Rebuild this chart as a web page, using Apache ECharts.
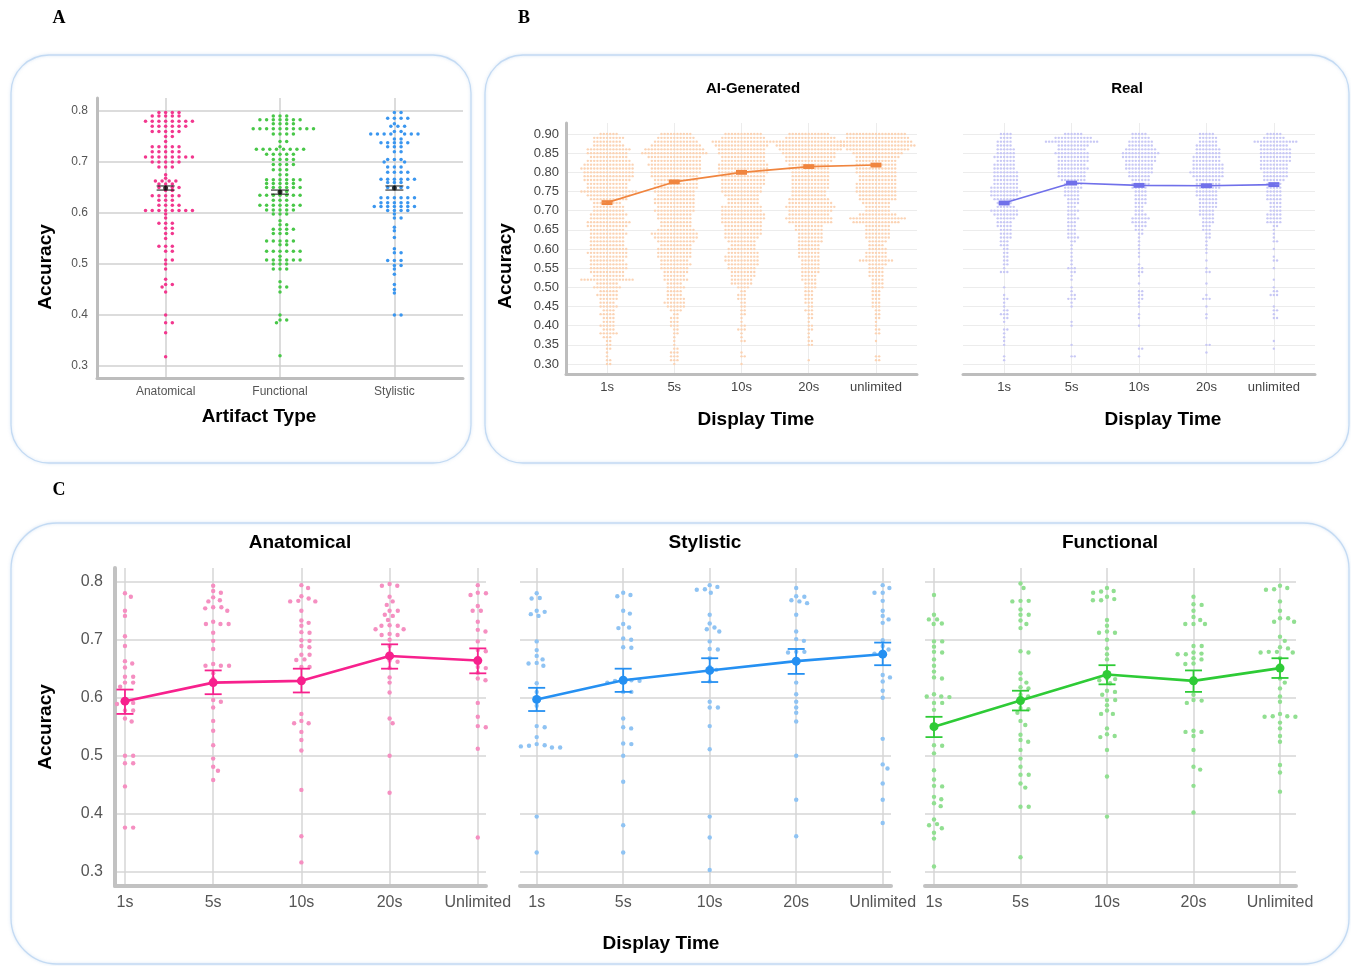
<!DOCTYPE html>
<html><head><meta charset="utf-8">
<script src="https://cdn.jsdelivr.net/npm/echarts@6/dist/echarts.min.js"></script>
<style>html,body{margin:0;padding:0;background:#fff}#c{width:1351px;height:966px}</style>
</head><body><div id="c"></div>
<script>
// ---------------- DATA ----------------
const catsA = ['Anatomical', 'Functional', 'Stylistic'];
const timesB = ['1s', '5s', '10s', '20s', 'unlimited'];
const timesC = ['1s', '5s', '10s', '20s', 'Unlimited'];
const ticksA = [0.3, 0.4, 0.5, 0.6, 0.7, 0.8];
const ticksB = [0.30, 0.35, 0.40, 0.45, 0.50, 0.55, 0.60, 0.65, 0.70, 0.75, 0.80, 0.85, 0.90];
const ticksC = [0.3, 0.4, 0.5, 0.6, 0.7, 0.8];

// Panel A : accuracy levels and number of participants at each level
const anatA_levels = [0.797,0.79,0.78,0.77,0.76,0.75,0.74,0.73,0.72,0.71,0.70,0.69,0.675,0.668,0.663,0.657,0.65,0.644,0.634,0.625,0.615,0.605,0.598,0.59,0.58,0.57,0.56,0.55,0.535,0.525,0.508,0.50,0.49,0.47,0.46,0.455,0.445,0.40,0.385,0.365,0.318];
const anatA_counts = [4,5,8,6,5,2,1,5,5,8,5,3,1,1,4,3,4,2,5,3,4,8,1,1,3,2,2,1,3,2,2,1,1,1,2,1,1,1,2,1,1];
const funcA_levels = [0.79,0.783,0.775,0.765,0.755,0.74,0.73,0.725,0.715,0.705,0.695,0.685,0.675,0.665,0.658,0.65,0.642,0.635,0.625,0.615,0.606,0.598,0.585,0.577,0.568,0.56,0.545,0.538,0.525,0.515,0.508,0.50,0.49,0.465,0.455,0.445,0.40,0.39,0.385,0.32];
const funcA_counts = [3,7,4,10,4,2,1,8,5,4,4,3,2,6,5,6,2,7,3,7,5,3,1,2,4,3,5,2,6,1,6,3,3,1,2,1,1,2,1,1];
const styA_levels = [0.797,0.786,0.775,0.77,0.76,0.755,0.745,0.738,0.73,0.72,0.705,0.70,0.69,0.68,0.666,0.66,0.65,0.63,0.62,0.613,0.605,0.598,0.59,0.572,0.565,0.552,0.53,0.522,0.507,0.497,0.49,0.48,0.46,0.45,0.443,0.40];
const styA_counts = [2,4,1,3,2,7,2,5,3,2,3,2,3,4,6,3,4,6,5,7,4,1,2,1,1,1,1,2,3,2,1,1,1,1,1,2];
const meanA = [0.649, 0.641, 0.649];
const lowA  = [0.645, 0.637, 0.645];
const highA = [0.653, 0.645, 0.653];

// Panel B : accuracy levels and counts per display time
const levelsB = [0.30,0.31,0.32,0.33,0.34,0.35,0.36,0.37,0.38,0.39,0.40,0.41,0.42,0.43,0.44,0.45,0.46,0.47,0.48,0.49,0.50,0.51,0.52,0.53,0.54,0.55,0.56,0.57,0.58,0.59,0.60,0.61,0.62,0.63,0.64,0.65,0.66,0.67,0.68,0.69,0.70,0.71,0.72,0.73,0.74,0.75,0.76,0.77,0.78,0.79,0.80,0.81,0.82,0.83,0.84,0.85,0.86,0.87,0.88,0.89,0.90];
const aiCounts1s  = [2,2,1,1,2,2,2,3,6,4, 5,4,4,5,4,6,5,6,7,6, 9,7,17,10,11,12,12,11,12,13, 12,11,11,11,12,11,13,14,11,12, 10,10,9,12,14,18,13,13,15,16, 16,17,16,14,12,13,14,10,9,10,6];
const aiCounts5s  = [1,3,3,3,2,1,1,1,2,2, 3,3,3,2,4,6,7,6,5,5, 6,5,8,7,8,9,10,9,11,11, 11,10,12,14,15,12,10,10,11,11, 13,12,13,13,12,13,14,14,14,15, 16,16,17,16,17,21,19,16,14,12,10];
const aiCounts10s = [1,0,2,1,0,0,2,1,1,3, 2,1,1,2,2,2,2,3,3,2, 4,7,7,8,8,9,10,11,11,10, 9,8,9,11,12,12,12,13,14,14, 13,13,10,10,11,13,13,14,14,14, 16,16,16,14,14,15,15,17,20,14,12];
const aiCounts20s = [0,1,0,0,0,2,2,1,1,2, 2,1,2,2,3,2,3,3,3,3, 4,4,5,5,6,6,6,6,7,7, 7,7,8,8,8,9,9,14,15,13, 14,16,14,13,11,11,12,12,12,12, 12,13,13,15,16,17,20,22,21,16,13];
const aiCountsUnl = [0,2,2,0,0,0,1,0,2,2, 1,1,2,2,2,3,3,3,3,3, 4,4,4,5,5,5,6,11,7,7, 6,5,6,8,8,8,8,15,18,12, 8,8,9,12,12,13,13,13,12,12, 13,13,13,13,14,16,20,24,23,20,19];
const realCounts1s  = [0,1,1,0,0,1,1,1,1,2, 0,1,2,3,2,1,1,2,1,0, 1,0,0,0,3,1,2,2,2,2, 2,3,3,4,4,4,5,5,6,8, 9,6,5,7,9,10,9,8,8,8, 8,7,7,6,7,6,6,5,5,4,4];
const realCounts5s  = [0,0,2,0,0,1,0,0,0,0, 1,1,0,0,0,1,1,3,2,1, 1,0,1,1,2,3,1,1,1,1, 1,1,2,4,3,3,3,3,4,3, 4,3,4,4,5,5,6,6,8,9, 9,10,9,10,10,11,9,10,17,12,6];
const realCounts10s = [0,0,1,0,2,0,0,0,0,0, 1,0,1,1,0,1,1,2,2,2, 0,1,0,1,2,2,1,0,1,1, 1,1,1,1,2,3,4,5,6,4, 3,3,4,4,4,4,5,6,6,7, 8,9,9,10,11,12,10,8,8,6,5];
const realCounts20s = [0,0,0,1,0,2,0,0,0,0, 0,0,1,1,0,1,0,3,1,0, 0,1,0,0,2,1,0,1,0,1, 1,1,1,2,2,3,3,4,4,5, 5,6,6,6,7,7,8,8,8,10, 11,10,10,9,9,8,8,7,6,6,5];
const realCountsUnl = [0,0,0,0,1,0,1,0,0,0, 0,0,2,1,2,1,0,0,3,2, 1,0,1,0,0,1,0,2,1,0, 1,0,2,1,1,1,2,5,5,5, 4,4,4,5,5,5,5,5,7,8, 8,9,9,10,10,10,10,9,14,7,5];
const meanAI = [0.721, 0.775, 0.800, 0.815, 0.819];
const lowAI  = [0.718, 0.772, 0.797, 0.812, 0.816];
const highAI = [0.724, 0.778, 0.803, 0.818, 0.822];
const meanReal = [0.720, 0.772, 0.766, 0.765, 0.768];
const lowReal  = [0.717, 0.769, 0.763, 0.762, 0.765];
const highReal = [0.723, 0.775, 0.769, 0.768, 0.771];

// Panel C : individual accuracies
const cAnat = [
  [0.78,0.774,0.75,0.741,0.706,0.689,0.663,0.659,0.652,0.636,0.636,0.626,0.626,0.619,0.591,0.591,0.589,0.578,0.578,0.564,0.559,0.50,0.50,0.487,0.487,0.447,0.376,0.376],
  [0.793,0.784,0.781,0.773,0.768,0.766,0.756,0.756,0.754,0.75,0.731,0.727,0.727,0.727,0.712,0.698,0.684,0.658,0.655,0.655,0.655,0.642,0.633,0.596,0.593,0.583,0.56,0.543,0.518,0.495,0.481,0.474,0.458],
  [0.794,0.789,0.775,0.771,0.767,0.766,0.766,0.75,0.733,0.729,0.724,0.713,0.712,0.699,0.698,0.689,0.687,0.674,0.674,0.666,0.665,0.653,0.653,0.572,0.56,0.556,0.556,0.541,0.527,0.509,0.441,0.361,0.316],
  [0.796,0.793,0.793,0.774,0.766,0.76,0.75,0.75,0.743,0.741,0.734,0.725,0.724,0.724,0.718,0.718,0.71,0.708,0.708,0.70,0.689,0.676,0.664,0.662,0.651,0.635,0.626,0.609,0.564,0.556,0.50,0.436],
  [0.794,0.781,0.78,0.777,0.758,0.75,0.75,0.731,0.717,0.714,0.697,0.682,0.68,0.653,0.651,0.643,0.633,0.63,0.591,0.567,0.551,0.549,0.512,0.359]
];
const cSty = [
  [0.78,0.772,0.771,0.75,0.748,0.744,0.741,0.697,0.682,0.672,0.666,0.66,0.659,0.655,0.625,0.61,0.586,0.551,0.549,0.532,0.52,0.518,0.517,0.516,0.514,0.514,0.395,0.333],
  [0.781,0.777,0.775,0.75,0.745,0.727,0.721,0.72,0.702,0.70,0.687,0.686,0.63,0.63,0.629,0.629,0.626,0.61,0.61,0.564,0.549,0.547,0.521,0.52,0.50,0.455,0.38,0.333],
  [0.794,0.791,0.787,0.786,0.781,0.743,0.728,0.721,0.718,0.714,0.697,0.684,0.683,0.668,0.653,0.648,0.628,0.593,0.583,0.583,0.551,0.511,0.395,0.359,0.303],
  [0.789,0.775,0.774,0.768,0.766,0.763,0.743,0.714,0.701,0.698,0.679,0.679,0.678,0.659,0.626,0.606,0.593,0.583,0.574,0.559,0.50,0.424,0.361],
  [0.794,0.789,0.781,0.781,0.767,0.75,0.741,0.735,0.729,0.699,0.689,0.683,0.676,0.676,0.639,0.635,0.628,0.612,0.60,0.529,0.485,0.478,0.452,0.424,0.384]
];
const cFunc = [
  [0.777,0.743,0.735,0.735,0.728,0.727,0.697,0.697,0.688,0.679,0.678,0.666,0.655,0.645,0.635,0.633,0.606,0.602,0.602,0.601,0.591,0.591,0.579,0.518,0.517,0.504,0.475,0.459,0.448,0.447,0.429,0.425,0.418,0.413,0.39,0.382,0.38,0.375,0.367,0.357,0.309],
  [0.797,0.789,0.767,0.767,0.766,0.752,0.743,0.743,0.733,0.727,0.72,0.68,0.678,0.642,0.632,0.626,0.618,0.616,0.605,0.602,0.582,0.58,0.574,0.56,0.553,0.536,0.527,0.524,0.51,0.495,0.481,0.467,0.467,0.452,0.445,0.412,0.412,0.325],
  [0.789,0.784,0.783,0.781,0.774,0.77,0.768,0.768,0.734,0.724,0.714,0.712,0.712,0.70,0.685,0.675,0.666,0.633,0.632,0.63,0.625,0.612,0.61,0.605,0.596,0.596,0.587,0.578,0.572,0.572,0.547,0.537,0.534,0.532,0.51,0.464,0.395],
  [0.774,0.761,0.76,0.75,0.739,0.734,0.727,0.727,0.727,0.689,0.689,0.678,0.676,0.675,0.675,0.668,0.666,0.659,0.658,0.605,0.596,0.595,0.591,0.543,0.541,0.541,0.534,0.51,0.481,0.476,0.448,0.402],
  [0.793,0.789,0.787,0.786,0.766,0.75,0.737,0.737,0.731,0.731,0.705,0.698,0.687,0.685,0.679,0.679,0.678,0.678,0.668,0.655,0.633,0.626,0.616,0.602,0.593,0.572,0.568,0.568,0.567,0.567,0.557,0.547,0.534,0.524,0.484,0.471,0.438]
];
const meanCAnat = [0.594, 0.626, 0.629, 0.672, 0.664];
const lowCAnat  = [0.572, 0.606, 0.609, 0.650, 0.642];
const highCAnat = [0.614, 0.647, 0.650, 0.692, 0.685];
const meanCSty = [0.597, 0.630, 0.647, 0.663, 0.675];
const lowCSty  = [0.577, 0.610, 0.627, 0.641, 0.656];
const highCSty = [0.617, 0.650, 0.668, 0.684, 0.695];
const meanCFunc = [0.550, 0.595, 0.640, 0.629, 0.651];
const lowCFunc  = [0.532, 0.578, 0.623, 0.610, 0.634];
const highCFunc = [0.567, 0.612, 0.656, 0.647, 0.668];

// ---------------- LAYOUT / STYLE ----------------
const FONT = '"Liberation Sans", Arial, Helvetica, sans-serif';
function expand(levels, counts) {
  const out = [];
  levels.forEach((l, i) => { for (let k = 0; k < counts[i]; k++) out.push(l); });
  return out;
}

const panels = [
  { left: 97, top: 98, width: 366, height: 280, xMin: -0.6, xMax: 2.6, yMin: 0.2765, yMax: 0.8255,
    cats: catsA, ticks: ticksA, dec: 1, showY: true, axisColor: '#bdbdbd', axisW: 3, split: '#d0d0d0', splitW: 1.5,
    yFont: 12, xFont: 12, yMargin: 9, xMargin: 8, labelColor: '#555' },
  { left: 566, top: 123, width: 351, height: 251, xMin: -0.61, xMax: 4.61, yMin: 0.2739, yMax: 0.9287,
    cats: timesB, ticks: ticksB, dec: 2, showY: true, axisColor: '#bdbdbd', axisW: 3, split: '#ececec', splitW: 1,
    yFont: 13, xFont: 13, yMargin: 7, xMargin: 7, labelColor: '#444' },
  { left: 963, top: 123, width: 352, height: 251, xMin: -0.61, xMax: 4.61, yMin: 0.2739, yMax: 0.9287,
    cats: timesB, ticks: ticksB, dec: 2, showY: false, axisColor: '#bdbdbd', axisW: 3, split: '#ececec', splitW: 1,
    yFont: 13, xFont: 13, yMargin: 7, xMargin: 7, labelColor: '#444' },
  { left: 115, top: 568, width: 371, height: 318, xMin: -0.113, xMax: 4.093, yMin: 0.2753, yMax: 0.8236,
    cats: timesC, ticks: ticksC, dec: 1, showY: true, axisColor: '#c2c2c2', axisW: 4, split: '#d6d6d6', splitW: 1.5,
    yFont: 16, xFont: 16, yMargin: 12, xMargin: 9, labelColor: '#555' },
  { left: 520, top: 568, width: 371, height: 318, xMin: -0.193, xMax: 4.096, yMin: 0.2753, yMax: 0.8236,
    cats: timesC, ticks: ticksC, dec: 1, showY: false, axisColor: '#c2c2c2', axisW: 4, split: '#d6d6d6', splitW: 1.5,
    yFont: 16, xFont: 16, yMargin: 12, xMargin: 9, labelColor: '#555' },
  { left: 925, top: 568, width: 371, height: 318, xMin: -0.104, xMax: 4.185, yMin: 0.2753, yMax: 0.8236,
    cats: timesC, ticks: ticksC, dec: 1, showY: false, axisColor: '#c2c2c2', axisW: 4, split: '#d6d6d6', splitW: 1.5,
    yFont: 16, xFont: 16, yMargin: 12, xMargin: 9, labelColor: '#555' }
];

const grids = panels.map(p => ({ left: p.left, top: p.top, width: p.width, height: p.height }));
const xAxes = panels.map((p, i) => {
  const idx = p.cats.map((_, k) => k);
  return {
    type: 'value', gridIndex: i, min: p.xMin, max: p.xMax,
    axisLine: { show: true, onZero: false, lineStyle: { color: p.axisColor, width: p.axisW } },
    axisTick: { show: false, customValues: idx },
    axisLabel: { customValues: idx, formatter: v => p.cats[Math.round(v)], fontFamily: FONT,
                 fontSize: p.xFont, color: p.labelColor, margin: p.xMargin },
    splitLine: { show: true, lineStyle: { color: p.split, width: p.splitW } }
  };
});
const yAxes = panels.map((p, i) => ({
  type: 'value', gridIndex: i, min: p.yMin, max: p.yMax,
  axisLine: { show: p.showY, onZero: false, lineStyle: { color: p.axisColor, width: p.axisW } },
  axisTick: { show: false, customValues: p.ticks },
  axisLabel: { show: p.showY, customValues: p.ticks, formatter: v => v.toFixed(p.dec), fontFamily: FONT,
               fontSize: p.yFont, color: p.labelColor, margin: p.yMargin },
  splitLine: { show: true, lineStyle: { color: p.split, width: p.splitW } }
}));

// swarm groups
const groups = [];
const aColors = ['#f2378e', '#48c748', '#3a96ef'];
[[anatA_levels, anatA_counts], [funcA_levels, funcA_counts], [styA_levels, styA_counts]].forEach((lc, k) => {
  groups.push({ panel: 0, cat: k, vals: expand(lc[0], lc[1]), color: aColors[k], size: 3.5, Dx: 6.7, Dy: 3, opacity: 1 });
});
[aiCounts1s, aiCounts5s, aiCounts10s, aiCounts20s, aiCountsUnl].forEach((c, k) => {
  groups.push({ panel: 1, cat: k, vals: expand(levelsB, c), color: '#fbd3b4', size: 2.4, Dx: 3.2, Dy: 3, opacity: 1 });
});
[realCounts1s, realCounts5s, realCounts10s, realCounts20s, realCountsUnl].forEach((c, k) => {
  groups.push({ panel: 2, cat: k, vals: expand(levelsB, c), color: '#c8c8f5', size: 2.4, Dx: 3.2, Dy: 3, opacity: 1 });
});
const cDotColors = ['#f58fc1', '#8fc3f3', '#91df91'];
[cAnat, cSty, cFunc].forEach((arr, pi) => {
  arr.forEach((vals, k) => {
    groups.push({ panel: 3 + pi, cat: k, vals: vals, color: cDotColors[pi], size: 4.4, Dx: 8.2, Dy: 5, opacity: 1 });
  });
});

function errSeries(id, panel, low, high, color, capW, lw) {
  return {
    id: id, type: 'custom', xAxisIndex: panel, yAxisIndex: panel, z: 6,
    data: low.map((l, i) => [i, l, high[i]]),
    encode: { x: 0, y: [1, 2] },
    renderItem: function (params, api) {
      const x = api.value(0);
      const pl = api.coord([x, api.value(1)]);
      const ph = api.coord([x, api.value(2)]);
      const st = { stroke: color, lineWidth: lw };
      return { type: 'group', children: [
        { type: 'line', shape: { x1: pl[0], y1: pl[1], x2: ph[0], y2: ph[1] }, style: st },
        { type: 'line', shape: { x1: pl[0] - capW / 2, y1: pl[1], x2: pl[0] + capW / 2, y2: pl[1] }, style: st },
        { type: 'line', shape: { x1: ph[0] - capW / 2, y1: ph[1], x2: ph[0] + capW / 2, y2: ph[1] }, style: st }
      ]};
    }
  };
}

const series = [];
groups.forEach((g, gi) => {
  series.push({
    id: 'dots' + gi, type: 'scatter', xAxisIndex: g.panel, yAxisIndex: g.panel, z: 2,
    symbol: 'circle', symbolSize: g.size, silent: true,
    itemStyle: { color: g.color, opacity: g.opacity },
    data: g.vals.map(v => [g.cat, v])
  });
});
// Panel A means
series.push(errSeries('errA', 0, lowA, highA, '#111', 18, 1));
series.push({ type: 'scatter', xAxisIndex: 0, yAxisIndex: 0, z: 7, symbol: 'circle', symbolSize: 5,
  itemStyle: { color: '#111' }, data: meanA.map((m, i) => [i, m]) });
// Panel B means
series.push({ type: 'line', xAxisIndex: 1, yAxisIndex: 1, z: 5, symbol: 'none',
  lineStyle: { color: '#f0853f', width: 1.6 }, data: meanAI.map((m, i) => [i, m]) });
series.push(errSeries('errAI', 1, lowAI, highAI, '#f0853f', 11, 2.6));
series.push({ type: 'line', xAxisIndex: 2, yAxisIndex: 2, z: 5, symbol: 'none',
  lineStyle: { color: '#7070ea', width: 1.6 }, data: meanReal.map((m, i) => [i, m]) });
series.push(errSeries('errReal', 2, lowReal, highReal, '#7070ea', 11, 2.6));
// Panel C means
const cLines = [
  [meanCAnat, lowCAnat, highCAnat, '#f7218d'],
  [meanCSty, lowCSty, highCSty, '#2590f2'],
  [meanCFunc, lowCFunc, highCFunc, '#2ecb36']
];
cLines.forEach((c, k) => {
  series.push({ type: 'line', xAxisIndex: 3 + k, yAxisIndex: 3 + k, z: 5, symbol: 'circle', symbolSize: 9,
    itemStyle: { color: c[3] }, lineStyle: { color: c[3], width: 2.6 }, data: c[0].map((m, i) => [i, m]) });
  series.push(errSeries('errC' + k, 3 + k, c[1], c[2], c[3], 17, 1.8));
});

// texts & frames
const boxStyle = { fill: 'rgba(0,0,0,0)', stroke: '#c3daf3', lineWidth: 1.3, shadowBlur: 3, shadowColor: 'rgba(160,195,235,0.5)' };
function txt(t, x, y, font, rot) {
  return { type: 'text', x: x, y: y, rotation: rot || 0, z: 10,
    style: { text: t, x: 0, y: 0, font: font, fill: '#000', textAlign: 'center', textVerticalAlign: 'middle', align: 'center', verticalAlign: 'middle' } };
}
const B19 = 'bold 19px ' + FONT;
const graphics = [
  { type: 'rect', shape: { x: 11, y: 55, width: 460, height: 408, r: 38 }, style: boxStyle, z: -1 },
  { type: 'rect', shape: { x: 485, y: 55, width: 864, height: 408, r: 38 }, style: boxStyle, z: -1 },
  { type: 'rect', shape: { x: 11, y: 523, width: 1338, height: 441, r: 46 }, style: boxStyle, z: -1 },
  txt('A', 59, 18, 'bold 18px "Liberation Serif", "Times New Roman", serif'),
  txt('B', 524, 18, 'bold 18px "Liberation Serif", "Times New Roman", serif'),
  txt('C', 59, 490, 'bold 18px "Liberation Serif", "Times New Roman", serif'),
  txt('Accuracy', 46, 267, B19, Math.PI / 2),
  txt('Artifact Type', 259, 417, B19),
  txt('AI-Generated', 753, 89, 'bold 15px ' + FONT),
  txt('Real', 1127, 89, 'bold 15px ' + FONT),
  txt('Accuracy', 506, 266, B19, Math.PI / 2),
  txt('Display Time', 756, 420, B19),
  txt('Display Time', 1163, 420, B19),
  txt('Anatomical', 300, 543, B19),
  txt('Stylistic', 705, 543, B19),
  txt('Functional', 1110, 543, B19),
  txt('Accuracy', 46, 727, B19, Math.PI / 2),
  txt('Display Time', 661, 944, B19)
];

const chart = echarts.init(document.getElementById('c'), null, { renderer: 'canvas', width: 1351, height: 966 });
chart.setOption({
  animation: false,
  backgroundColor: '#fff',
  grid: grids, xAxis: xAxes, yAxis: yAxes,
  series: series,
  graphic: { elements: graphics }
});

// beeswarm layout in pixel space (uses the library's y scale)
function swarm(vals, toPx, Dx, Dy) {
  const pts = vals.map(v => ({ v: v, y: toPx(v), x: 0 })).sort((a, b) => a.y - b.y);
  const placed = [];
  for (const p of pts) {
    const iv = [];
    for (let j = placed.length - 1; j >= 0; j--) {
      const q = placed[j];
      const dy = p.y - q.y;
      if (dy >= Dy) break;
      const w = Dx * Math.sqrt(Math.max(0, 1 - (dy * dy) / (Dy * Dy)));
      iv.push([q.x - w, q.x + w]);
    }
    const cands = [0];
    iv.forEach(r => { cands.push(r[0], r[1]); });
    cands.sort((a, b) => (Math.abs(a) - Math.abs(b)) || (b - a));
    let best = 0;
    for (const c of cands) {
      if (iv.every(r => c <= r[0] + 1e-6 || c >= r[1] - 1e-6)) { best = c; break; }
    }
    p.x = best;
    placed.push(p);
  }
  return pts;
}
const upd = groups.map((g, gi) => {
  const toPx = v => chart.convertToPixel({ yAxisIndex: g.panel }, v);
  const pts = swarm(g.vals, toPx, g.Dx, g.Dy);
  return { id: 'dots' + gi, data: pts.map(p => ({ value: [g.cat, p.v], symbolOffset: [p.x, 0] })) };
});
chart.setOption({ series: upd });
</script>
</body></html>
